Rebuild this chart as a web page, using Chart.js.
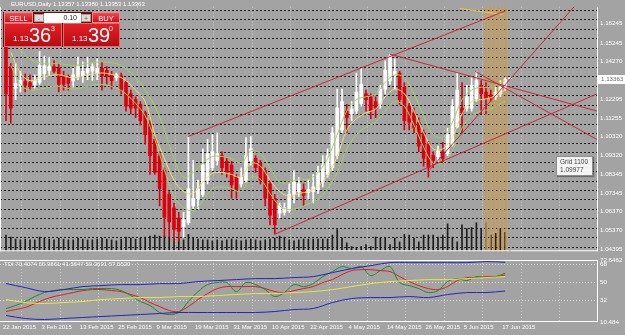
<!DOCTYPE html>
<html>
<head>
<meta charset="utf-8">
<script src="https://cdn.jsdelivr.net/npm/chart.js@4.4.1/dist/chart.umd.min.js"></script>
<style>
html, body { margin: 0; padding: 0; width: 625px; height: 335px; overflow: hidden; background: #a3a3a3; font-family: "Liberation Sans", Arial, sans-serif; }
canvas { position: absolute; left: 0; }
#main { top: 0; }
#tdi { top: 250px; }
.abs { position: absolute; }
#title { left: 11px; top: 1px; font-size: 6px; color: #fff; white-space: nowrap; }
#panel { left: 3px; top: 12px; width: 117px; height: 35px; background: #7a0a0a; }
.btn { position: absolute; top: 0; height: 11px; line-height: 11px; text-align: center; color: #fff; font-size: 7.5px; background: linear-gradient(#ee4a4e, #c5121a); box-sizing: border-box; border: 1px solid #f08a8a; }
.spin { position: absolute; top: 2px; width: 10px; height: 8px; line-height: 7px; text-align: center; font-size: 7px; color: #666; background: #dcdcdc; box-sizing: border-box; border: 1px solid #9a9a9a; }
#lot { position: absolute; left: 41px; top: 1px; width: 37px; height: 10px; line-height: 10px; background: #fff; color: #222; font-size: 7px; text-align: right; padding-right: 4px; box-sizing: border-box; }
.pbox { position: absolute; top: 11px; height: 24px; background: linear-gradient(#e32026, #b70c12); box-sizing: border-box; border: 1px solid #e56a6a; color: #fff; }
.pbox span { position: absolute; white-space: nowrap; }
.sm { font-size: 8px; top: 10px; }
.big { font-size: 20px; line-height: 20px; top: 1px; }
.sup { font-size: 7px; top: 1px; }
#tdiLabel { left: 4px; top: 261px; font-size: 6px; color: #f2f2f2; white-space: nowrap; }
#gridTip { left: 556px; top: 156px; width: 37px; height: 20px; box-sizing: border-box; background: #f4f4f4; border: 1px solid #8c8c8c; color: #444; font-size: 6.5px; line-height: 8px; padding: 1px 3px; box-shadow: 1px 1px 1px rgba(0,0,0,0.35); }
</style>
</head>
<body>
<canvas id="main" width="625" height="258" style="width:625px;height:258px"></canvas>
<canvas id="tdi" width="625" height="85" style="width:625px;height:85px"></canvas>

<div id="title" class="abs">EURUSD,Daily 1.13357 1.13380 1.13353 1.13363</div>
<div id="panel" class="abs">
  <div class="btn" style="left:1px;width:29px">SELL</div>
  <div class="spin" style="left:31px">-</div>
  <div id="lot">0.10</div>
  <div class="spin" style="left:78px">+</div>
  <div class="btn" style="left:89px;width:28px">BUY</div>
  <div class="pbox" style="left:1px;width:58px"><span class="sm" style="left:8px">1.13</span><span class="big" style="left:24px">36</span><span class="sup" style="left:46px">3</span></div>
  <div class="pbox" style="left:60px;width:57px"><span class="sm" style="left:8px">1.13</span><span class="big" style="left:24px">39</span><span class="sup" style="left:45px">0</span></div>
</div>
<div id="tdiLabel" class="abs">TDI 70.4074 55.9861 41.5647 59.3691 57.5520</div>
<div id="gridTip" class="abs">Grid 1100<br>1.09977</div>

<script>
Chart.defaults.font.family = '"Liberation Sans", Arial, sans-serif';

// EURUSD daily bars, 22 Jan 2015 .. 18 Jun 2015 (index 0 = 22 Jan)
var open = [1.1515,1.1400,1.1286,1.1301,1.1321,1.1316,1.1306,1.1316,1.1361,1.1380,
  1.1400,1.1390,1.1351,1.1341,1.1326,1.1346,1.1351,1.1366,1.1375,1.1366,
  1.1390,1.1380,1.1356,1.1341,1.1351,1.1316,1.1256,1.1226,1.1201,1.1156,
  1.1102,1.1017,1.0932,1.0853,1.0728,1.0658,1.0604,1.0559,1.0579,1.0668,
  1.0703,1.0728,1.0803,1.0868,1.0907,1.0932,1.0902,1.0882,1.0818,1.0783,
  1.0803,1.0907,1.0917,1.0892,1.0853,1.0783,1.0708,1.0629,1.0634,1.0643,
  1.0728,1.0743,1.0753,1.0738,1.0743,1.0753,1.0793,1.0833,1.0868,1.0932,
  1.1067,1.1166,1.1151,1.1166,1.1206,1.1256,1.1241,1.1216,1.1206,1.1281,
  1.1326,1.1351,1.1366,1.1291,1.1191,1.1156,1.1107,1.1052,1.0992,1.0932,
  1.0927,1.0952,1.0942,1.0992,1.1082,1.1181,1.1181,1.1181,1.1231,1.1301,
  1.1266,1.1251,1.1241,1.1256,1.1291,1.13357];
var high = [1.1565,1.1415,1.1415,1.1375,1.1361,1.1356,1.1356,1.1480,1.1455,1.1450,
  1.1430,1.1415,1.1375,1.1356,1.1390,1.1450,1.1425,1.1450,1.1415,1.1440,
  1.1425,1.1400,1.1375,1.1366,1.1366,1.1326,1.1276,1.1241,1.1216,1.1166,
  1.1116,1.1032,1.0952,1.0868,1.0743,1.0683,1.0634,1.0634,1.1032,1.0907,
  1.0803,1.0967,1.1017,1.1042,1.1052,1.0952,1.0917,1.0902,1.0833,1.0868,
  1.1027,1.1032,1.0932,1.0907,1.0868,1.0803,1.0728,1.0683,1.0683,1.0783,
  1.0853,1.0818,1.0783,1.0803,1.0833,1.0877,1.0932,1.0967,1.1082,1.1281,
  1.1281,1.1201,1.1216,1.1366,1.1390,1.1276,1.1256,1.1241,1.1301,1.1430,
  1.1465,1.1440,1.1375,1.1316,1.1206,1.1181,1.1131,1.1067,1.1007,1.0952,
  1.0982,1.1002,1.1077,1.1226,1.1366,1.1316,1.1301,1.1341,1.1375,1.1326,
  1.1316,1.1276,1.1291,1.1326,1.1341,1.13380];
var low = [1.1116,1.1102,1.1226,1.1266,1.1266,1.1276,1.1286,1.1306,1.1331,1.1351,
  1.1366,1.1266,1.1276,1.1276,1.1291,1.1331,1.1316,1.1331,1.1326,1.1331,
  1.1276,1.1306,1.1281,1.1326,1.1256,1.1166,1.1151,1.1131,1.1092,1.0992,
  1.0833,1.0833,1.0668,1.0509,1.0504,1.0484,1.0484,1.0504,1.0569,1.0653,
  1.0653,1.0718,1.0783,1.0853,1.0882,1.0833,1.0818,1.0708,1.0708,1.0768,
  1.0793,1.0882,1.0843,1.0783,1.0668,1.0569,1.0519,1.0604,1.0619,1.0634,
  1.0683,1.0718,1.0668,1.0703,1.0683,1.0733,1.0768,1.0818,1.0853,1.0917,
  1.1052,1.1052,1.1116,1.1151,1.1191,1.1166,1.1126,1.1131,1.1181,1.1256,
  1.1306,1.1281,1.1201,1.1067,1.1067,1.1052,1.0952,1.0877,1.0818,1.0868,
  1.0902,1.0892,1.0932,1.0982,1.1077,1.1052,1.1166,1.1166,1.1216,1.1151,
  1.1151,1.1216,1.1226,1.1241,1.1276,1.13353];
var close = [1.1256,1.1181,1.1311,1.1326,1.1301,1.1296,1.1326,1.1405,1.1405,1.1400,
  1.1375,1.1306,1.1306,1.1311,1.1356,1.1400,1.1375,1.1390,1.1400,1.1390,
  1.1351,1.1351,1.1326,1.1356,1.1276,1.1191,1.1181,1.1181,1.1116,1.1042,
  1.0932,1.0843,1.0758,1.0609,1.0584,1.0544,1.0534,1.0594,1.0758,1.0708,
  1.0758,1.0882,1.0942,1.0952,1.0942,1.0868,1.0843,1.0778,1.0753,1.0818,
  1.0932,1.0967,1.0868,1.0803,1.0708,1.0619,1.0569,1.0668,1.0658,1.0728,
  1.0793,1.0783,1.0723,1.0753,1.0768,1.0843,1.0882,1.0932,1.1052,1.1181,
  1.1216,1.1131,1.1176,1.1266,1.1306,1.1226,1.1166,1.1181,1.1281,1.1380,
  1.1455,1.1375,1.1226,1.1116,1.1107,1.1077,1.0982,1.0917,1.0868,1.0907,
  1.0957,1.0917,1.1042,1.1191,1.1276,1.1156,1.1241,1.1301,1.1326,1.1256,
  1.1231,1.1236,1.1266,1.1291,1.1331,1.13363];
var volume = [102,90,78,72,78,72,72,90,84,78,72,84,78,72,72,84,78,72,72,78,84,78,72,66,78,90,84,78,84,90,96,102,96,
  96,90,84,78,72,108,84,78,72,72,66,72,66,72,78,72,66,72,78,72,66,72,78,84,96,90,72,66,72,
  78,78,78,78,78,78,102,138,84,54,30,24,30,42,30,90,84,84,42,84,60,108,102,84,60,102,102,102,90,
  102,174,90,60,168,144,150,180,144,180,102,114,144,120,6];

// moving average and its envelope, read at these bars
var maIdx = [1,3,5,8,11,14,17,20,23,25,27,29,31,33,35,37,39,41,43,45,47,49,51,53,55,57,59,61,63,65,67,69,71,73,75,77,79,81,83,85,87,89,91,93,95,97,99,101,103,104];
var maMid = [1.1475,1.1366,1.1326,1.1346,1.1356,1.1341,1.1356,1.1366,1.1351,1.1326,1.1276,1.1216,1.1042,1.0917,1.0803,1.0743,1.0733,1.0793,1.0838,1.0843,
  1.0833,1.0818,1.0892,1.0877,1.0803,1.0743,1.0718,1.0733,1.0743,1.0768,1.0828,1.0927,1.1067,1.1126,1.1156,1.1176,1.1241,1.1281,1.1256,1.1166,
  1.1052,1.0967,1.0967,1.1027,1.1151,1.1216,1.1226,1.1236,1.1261,1.1276];
var maUpper = [1.1565,1.1490,1.1440,1.1415,1.1415,1.1405,1.1415,1.1425,1.1415,1.1390,1.1341,1.1276,1.1191,1.1067,1.0917,1.0818,1.0843,1.0892,1.0927,1.0927,
  1.0917,1.0892,1.0957,1.0942,1.0868,1.0793,1.0793,1.0808,1.0808,1.0843,1.0917,1.1042,1.1166,1.1226,1.1241,1.1256,1.1316,1.1356,1.1341,1.1256,
  1.1141,1.1042,1.1027,1.1107,1.1226,1.1276,1.1291,1.1291,1.1316,1.1326];
var maLower = [1.1405,1.1306,1.1276,1.1286,1.1296,1.1281,1.1296,1.1306,1.1286,1.1256,1.1206,1.1141,1.1017,1.0858,1.0718,1.0658,1.0643,1.0693,1.0758,1.0768,
  1.0758,1.0743,1.0818,1.0808,1.0733,1.0668,1.0648,1.0658,1.0678,1.0703,1.0758,1.0843,1.0967,1.1042,1.1082,1.1107,1.1166,1.1216,1.1191,1.1092,
  1.0977,1.0892,1.0892,1.0957,1.1077,1.1141,1.1166,1.1176,1.1206,1.1216];

// drawn objects: trend lines [bar, price] -> [bar, price]
var trendLines = [
  [[37.9, 1.1032], [104, 1.1692]],
  [[56, 1.0519], [123.1, 1.1256]],
  [[80, 1.1465], [123.1, 1.1166]],
  [[97.7, 1.1375], [123.1, 1.1017]],
  [[88.3, 1.0858], [123.1, 1.1849]]
];
var yellowSegment = [[94.6, 1.1704], [103.5, 1.1674]];
var markerBars = [100, 100.83, 101.67, 102.5, 103.33, 104.17];

// TDI
var tdiBandIdx = [0,4,8,12,16,20,24,28,32,36,40,44,48,52,56,60,64,68,72,76,80,84,88,92,96,100,104];
var tdiUpper = [49,45,41,43,46,47,48,48,49,49,51,52,53,54,54,55,56,60,64,67,70,70,70,70,70,71,70.4074];
var tdiLower = [17,14,13,14,15,16,17,18,19,20,20,20,20,20,21,23,24,30,34,35,35,36,35,38,40,40,41.5647];
var tdiBase = [33,30,29,30,31,33,34,35,35,36,36,37,38,39,39,40,41,43,46,49,51,52,53,53,54,55,55.9861];
var tdiLineIdx = [0,2,4,6,8,10,12,14,16,18,20,22,24,26,28,30,32,34,36,38,40,42,44,46,48,50,52,54,56,58,60,62,64,66,68,70,72,74,76,78,80,82,84,86,88,90,92,94,96,98,100,102,104];
var tdiPrice = [24,27,31,36,40,42,43,43,43,44,44,44,42,37,31,27,20,18,20,31,41,48,50,50,41,50,48,43,36,40,48,46,49,56,61,66,64,66,57,62,66,50,47,44,40,42,51,54,52,56,55,56,59.3691];
var tdiSignal = [21,23,25,29,33,36,38,40,42,43,43,42,41,38,35,30,26,22,21,26,33,39,44,46,46,46,46,44,41,40,42,44,46,50,53,58,62,63,63,62,61,56,51,47,44,43,46,52,55,55,56,56,57.552];

var dateIdx = [0,8,16,24,32,40,48,56,64,72,80,88,96,104];
var dateLabels = ['22 Jan 2015','3 Feb 2015','13 Feb 2015','25 Feb 2015','9 Mar 2015','19 Mar 2015','31 Mar 2015','10 Apr 2015','22 Apr 2015','4 May 2015','14 May 2015','26 May 2015','5 Jun 2015','17 Jun 2015'];
var priceTicks = [1.16245,1.15245,1.14270,1.12295,1.11255,1.10320,1.09320,1.08345,1.07345,1.06370,1.05370,1.04395];
var tdiTicks = [72.6462, 68, 50, 32, 10.484];
var tdiTickText = ['72.6462', '68', '50', '32', '10.484'];
var tdiLevels = [68, 50, 32];

var xMin = -1.25, xMax = 123.125;
var yMin = 1.04293, yMax = 1.17141;
var lastPrice = close[close.length - 1];

// dashed price grid (Grid object) and the terminal's own vertical grid
var gridPrices = [];
for (var g = 1.09977 - 11 * 0.00498; g < yMax; g += 0.00498) gridPrices.push(g);
var vGrid = [];
for (var v = 3.33; v < xMax; v += 8) vGrid.push(v);

var framePlugin = {
  id: 'frame',
  afterDraw: function (chart, args, opts) {
    var ctx = chart.ctx, a = chart.chartArea;
    ctx.save();
    ctx.strokeStyle = '#ffffff';
    ctx.lineWidth = 1;
    ctx.beginPath();
    if (opts.left) { ctx.moveTo(a.left + 0.5, a.top); ctx.lineTo(a.left + 0.5, a.bottom); }
    if (opts.top) { ctx.moveTo(a.left, a.top + 0.5); ctx.lineTo(a.right + 1, a.top + 0.5); }
    if (opts.right) { ctx.moveTo(a.right + 0.5, a.top); ctx.lineTo(a.right + 0.5, a.bottom); }
    if (opts.bottom) { ctx.moveTo(a.left, a.bottom - 0.5); ctx.lineTo(a.right + 1, a.bottom - 0.5); }
    ctx.stroke();
    ctx.restore();
  }
};

var priceTag = {
  id: 'priceTag',
  afterDraw: function (chart) {
    var ctx = chart.ctx, a = chart.chartArea;
    var py = Math.round(chart.scales.y.getPixelForValue(lastPrice));
    ctx.save();
    ctx.fillStyle = '#ffffff';
    ctx.fillRect(a.right + 1, py - 4, 28, 9);
    ctx.fillStyle = '#6a6a6a';
    ctx.font = '6.2px "Liberation Sans", Arial, sans-serif';
    ctx.textBaseline = 'middle';
    ctx.fillText(lastPrice.toFixed(5), a.right + 4, py + 0.5);
    ctx.restore();
  }
};

var bars = open.map(function (_, i) { return i; });
var candleColor = bars.map(function (i) { return close[i] >= open[i] ? '#ffffff' : '#e0000c'; });

function pts(idx, vals) {
  return idx.map(function (x, k) { return { x: x, y: vals[k] }; });
}

var mainSets = [];
mainSets.push({
  type: 'bar', data: bars.map(function (i) { return { x: i, y: volume[i] }; }),
  yAxisID: 'yv', backgroundColor: '#1e1e1e', barThickness: 1, grouped: false, order: 10
});
markerBars.forEach(function (b) {
  mainSets.push({
    type: 'line', data: [{ x: b, y: yMin }, { x: b, y: yMax }], yAxisID: 'y',
    borderColor: '#d8992a', borderWidth: 1.5, pointRadius: 0, order: 9
  });
});
mainSets.push({
  type: 'bar', data: bars.map(function (i) { return { x: i, y: [low[i], high[i]] }; }),
  yAxisID: 'y', backgroundColor: candleColor, barThickness: 1, grouped: false, order: 4
});
mainSets.push({
  type: 'bar', data: bars.map(function (i) { return { x: i, y: [open[i], close[i]] }; }),
  yAxisID: 'y', backgroundColor: candleColor, barThickness: 3, minBarLength: 1, grouped: false, order: 3
});
[[maUpper, '#9fd35a'], [maLower, '#9fd35a'], [maMid, '#ece26a']].forEach(function (m) {
  mainSets.push({
    type: 'line', data: pts(maIdx, m[0]), yAxisID: 'y', borderColor: m[1],
    borderWidth: 1, pointRadius: 0, tension: 0.35, order: 2
  });
});
trendLines.forEach(function (t) {
  mainSets.push({
    type: 'line', data: t.map(function (p) { return { x: p[0], y: p[1] }; }), yAxisID: 'y',
    borderColor: '#c9283e', borderWidth: 1, pointRadius: 0, order: 1
  });
});
mainSets.push({
  type: 'line', data: yellowSegment.map(function (p) { return { x: p[0], y: p[1] }; }), yAxisID: 'y',
  borderColor: '#e8d040', borderWidth: 1, pointRadius: 0, order: 1
});

var mainChart = new Chart(document.getElementById('main'), {
  type: 'bar',
  data: { datasets: mainSets },
  plugins: [framePlugin, priceTag],
  options: {
    responsive: false, animation: false,
    layout: { padding: 0 },
    plugins: { legend: { display: false }, tooltip: { enabled: false }, frame: { left: true, right: true, bottom: true } },
    scales: {
      x: {
        type: 'linear', min: xMin, max: xMax, offset: false,
        afterBuildTicks: function (s) { s.ticks = vGrid.map(function (v) { return { value: v }; }); },
        ticks: { display: false },
        grid: { color: 'rgba(215,215,215,0.75)', drawTicks: false, offset: false },
        border: { display: false, dash: [1, 2] },
        afterFit: function (s) { s.height = 0; }
      },
      y: {
        position: 'right', min: yMin, max: yMax,
        afterBuildTicks: function (s) { s.ticks = priceTicks.map(function (v) { return { value: v }; }); },
        ticks: { color: '#ffffff', font: { size: 6.2 }, padding: 3, autoSkip: false, callback: function (v) { return v.toFixed(5); } },
        grid: { display: false, drawTicks: false },
        border: { display: false },
        afterFit: function (s) { s.width = 28; }
      },
      yg: {
        position: 'right', min: yMin, max: yMax,
        afterBuildTicks: function (s) { s.ticks = gridPrices.map(function (v) { return { value: v }; }); },
        ticks: { display: false },
        grid: { color: 'rgba(15,15,15,0.9)', drawTicks: false },
        border: { display: false, dash: [2, 2] },
        afterFit: function (s) { s.width = 0; }
      },
      yv: { display: false, min: 0, max: 1548 }
    }
  }
});

var tdiSets = [
  [tdiBandIdx, tdiUpper, '#2323c8'],
  [tdiBandIdx, tdiLower, '#2323c8'],
  [tdiBandIdx, tdiBase, '#e6e640'],
  [tdiLineIdx, tdiPrice, '#1f8a2a'],
  [tdiLineIdx, tdiSignal, '#e01e1e']
].map(function (d) {
  return {
    data: pts(d[0], d[1]), xAxisID: 'x', yAxisID: 'y', borderColor: d[2],
    borderWidth: 1, pointRadius: 0, tension: 0.35
  };
});

var tdiChart = new Chart(document.getElementById('tdi'), {
  type: 'line',
  data: { datasets: tdiSets },
  plugins: [framePlugin],
  options: {
    responsive: false, animation: false,
    layout: { padding: { top: 10, left: 0, right: 0, bottom: 0 } },
    plugins: { legend: { display: false }, tooltip: { enabled: false }, frame: { top: true, right: true, bottom: true } },
    scales: {
      x: {
        type: 'linear', min: xMin, max: xMax, offset: false,
        afterBuildTicks: function (s) { s.ticks = dateIdx.map(function (v) { return { value: v }; }); },
        ticks: { color: '#ffffff', font: { size: 6 }, align: 'start', maxRotation: 0, autoSkip: false, padding: 2, labelOffset: -3,
          callback: function (v, i) { return dateLabels[i]; } },
        grid: { display: false, drawTicks: false },
        border: { display: false },
        afterFit: function (s) { s.height = 13; }
      },
      xg: {
        type: 'linear', position: 'bottom', min: xMin, max: xMax, offset: false,
        afterBuildTicks: function (s) { s.ticks = vGrid.map(function (v) { return { value: v }; }); },
        ticks: { display: false },
        grid: { color: 'rgba(215,215,215,0.75)', drawTicks: false },
        border: { display: false, dash: [1, 2] },
        afterFit: function (s) { s.height = 0; }
      },
      y: {
        position: 'right', min: 10.484, max: 72.6462,
        afterBuildTicks: function (s) { s.ticks = tdiTicks.map(function (v) { return { value: v }; }); },
        ticks: { color: '#ffffff', font: { size: 6.2 }, padding: 3, autoSkip: false, callback: function (v, i) { return tdiTickText[i]; } },
        grid: { display: false, drawTicks: false },
        border: { display: false },
        afterFit: function (s) { s.width = 28; }
      },
      yg: {
        position: 'right', min: 10.484, max: 72.6462,
        afterBuildTicks: function (s) { s.ticks = tdiLevels.map(function (v) { return { value: v }; }); },
        ticks: { display: false },
        grid: { color: 'rgba(225,225,225,0.8)', drawTicks: false },
        border: { display: false, dash: [1, 2] },
        afterFit: function (s) { s.width = 0; }
      }
    }
  }
});
</script>
</body>
</html>
